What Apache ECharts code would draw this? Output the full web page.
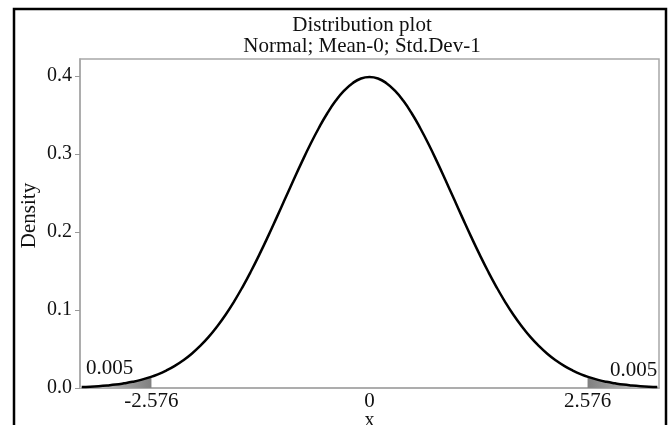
<!DOCTYPE html>
<html>
<head>
  <meta charset="utf-8"/>
  <title>Distribution plot</title>
  <script src="https://cdn.jsdelivr.net/npm/echarts@6/dist/echarts.min.js"></script>
  <style>
    html, body { margin: 0; padding: 0; background: #fff; }
    #chart { width: 669px; height: 425px; }
  </style>
</head>
<body>
<div id="chart"></div>
<script>
// x positions of the curve and the density
var xValues = [-3.4, -3.3, -3.2, -3.1, -3.0, -2.9, -2.8, -2.7, -2.6, -2.5,
  -2.4, -2.3, -2.2, -2.1, -2.0, -1.9, -1.8, -1.7, -1.6, -1.5,
  -1.4, -1.3, -1.2, -1.1, -1.0, -0.9, -0.8, -0.7, -0.6, -0.5,
  -0.4, -0.3, -0.2, -0.1, 0.0, 0.1, 0.2, 0.3, 0.4, 0.5,
  0.6, 0.7, 0.8, 0.9, 1.0, 1.1, 1.2, 1.3, 1.4, 1.5,
  1.6, 1.7, 1.8, 1.9, 2.0, 2.1, 2.2, 2.3, 2.4, 2.5,
  2.6, 2.7, 2.8, 2.9, 3.0, 3.1, 3.2, 3.3, 3.4];
var densityValues = [0.0012, 0.0017, 0.0024, 0.0033, 0.0044, 0.0060, 0.0079, 0.0104, 0.0136, 0.0175,
  0.0224, 0.0283, 0.0355, 0.0440, 0.0540, 0.0656, 0.0790, 0.0940, 0.1109, 0.1295,
  0.1497, 0.1714, 0.1942, 0.2179, 0.2420, 0.2661, 0.2897, 0.3123, 0.3332, 0.3521,
  0.3683, 0.3814, 0.3910, 0.3970, 0.3989, 0.3970, 0.3910, 0.3814, 0.3683, 0.3521,
  0.3332, 0.3123, 0.2897, 0.2661, 0.2420, 0.2179, 0.1942, 0.1714, 0.1497, 0.1295,
  0.1109, 0.0940, 0.0790, 0.0656, 0.0540, 0.0440, 0.0355, 0.0283, 0.0224, 0.0175,
  0.0136, 0.0104, 0.0079, 0.0060, 0.0044, 0.0033, 0.0024, 0.0017, 0.0012];

// shaded tails
var leftTailX = [-3.42, -3.4, -3.3, -3.2, -3.1, -3.0, -2.9, -2.8, -2.7, -2.6, -2.576];
var leftTailY = [0.0011, 0.0012, 0.0017, 0.0024, 0.0033, 0.0044, 0.0060, 0.0079, 0.0104, 0.0136, 0.0145];
var rightTailX = [2.576, 2.6, 2.7, 2.8, 2.9, 3.0, 3.1, 3.2, 3.3, 3.4, 3.42];
var rightTailY = [0.0145, 0.0136, 0.0104, 0.0079, 0.0060, 0.0044, 0.0033, 0.0024, 0.0017, 0.0012, 0.0011];

var xTickLabels = [-2.576, 0, 2.576];
var yTickLabels = [0, 0.1, 0.2, 0.3, 0.4];
var tailAreaText = '0.005';

function pairs(xs, ys) {
  var out = [];
  for (var i = 0; i < xs.length; i++) out.push([xs[i], ys[i]]);
  return out;
}

var serif = 'Liberation Serif';
var chart = echarts.init(document.getElementById('chart'), null, { renderer: 'canvas' });

var option = {
  animation: false,
  backgroundColor: '#fff',
  textStyle: { fontFamily: serif },
  title: {
    text: 'Distribution plot',
    subtext: 'Normal; Mean-0; Std.Dev-1',
    left: 362,
    top: 15,
    textAlign: 'center',
    padding: 0,
    itemGap: 0,
    textStyle: { fontFamily: serif, fontSize: 21, fontWeight: 'normal', color: '#111', lineHeight: 21 },
    subtextStyle: { fontFamily: serif, fontSize: 21, color: '#111', lineHeight: 21 }
  },
  graphic: [{
    type: 'rect',
    shape: { x: 14, y: 9, width: 652, height: 440 },
    style: { fill: 'none', stroke: '#000', lineWidth: 2.5 },
    silent: true
  }],
  grid: {
    left: 80, right: 10, top: 59, bottom: 37,
    containLabel: false,
    outerBoundsMode: 'none',
    show: true,
    borderColor: '#a8a8a8',
    borderWidth: 1.5,
    backgroundColor: 'transparent'
  },
  xAxis: {
    type: 'value',
    min: -3.42,
    max: 3.42,
    name: 'x',
    nameLocation: 'middle',
    nameGap: 23,
    nameMoveOverlap: false,
    nameTextStyle: { fontFamily: serif, fontSize: 20, color: '#111' },
    axisLine: { onZero: false, lineStyle: { color: '#a8a8a8', width: 1.5 } },
    axisTick: { show: false },
    splitLine: { show: false },
    axisLabel: {
      customValues: xTickLabels,
      fontFamily: serif, fontSize: 21, color: '#111', margin: 3,
      formatter: function (v) { return v === 0 ? '0' : v.toFixed(3); }
    }
  },
  yAxis: {
    type: 'value',
    min: 0,
    max: 0.422,
    name: 'Density',
    nameLocation: 'middle',
    nameGap: 40,
    nameMoveOverlap: false,
    nameTextStyle: { fontFamily: serif, fontSize: 21, color: '#111', padding: [0, 0, 0, 16] },
    axisLine: { show: true, onZero: false, lineStyle: { color: '#a8a8a8', width: 1.5 } },
    axisTick: { show: true, length: 5, customValues: yTickLabels, lineStyle: { color: '#999' } },
    splitLine: { show: false },
    axisLabel: {
      customValues: yTickLabels,
      fontFamily: serif, fontSize: 20, color: '#111', margin: 8,
      formatter: function (v) { return v.toFixed(1); }
    }
  },
  series: [
    {
      type: 'line',
      data: pairs(leftTailX, leftTailY),
      showSymbol: false,
      lineStyle: { width: 0 },
      areaStyle: {
        opacity: 1,
        color: new echarts.graphic.LinearGradient(0, 0, 1, 0, [
          { offset: 0, color: '#d4d4d4' }, { offset: 1, color: '#808080' }
        ])
      },
      z: 1
    },
    {
      type: 'line',
      data: pairs(rightTailX, rightTailY),
      showSymbol: false,
      lineStyle: { width: 0 },
      areaStyle: {
        opacity: 1,
        color: new echarts.graphic.LinearGradient(0, 0, 1, 0, [
          { offset: 0, color: '#808080' }, { offset: 1, color: '#d4d4d4' }
        ])
      },
      z: 1
    },
    {
      type: 'line',
      data: pairs(xValues, densityValues),
      smooth: true,
      showSymbol: false,
      lineStyle: { color: '#000', width: 2.5 },
      z: 3,
      markPoint: {
        symbol: 'circle',
        symbolSize: 0,
        label: {
          show: true,
          position: 'inside',
          fontFamily: serif, fontSize: 21, color: '#111',
          formatter: tailAreaText
        },
        data: [
          { coord: [-3.07, 0.025] },
          { coord: [3.12, 0.022] }
        ]
      }
    }
  ]
};

chart.setOption(option);
</script>
</body>
</html>
